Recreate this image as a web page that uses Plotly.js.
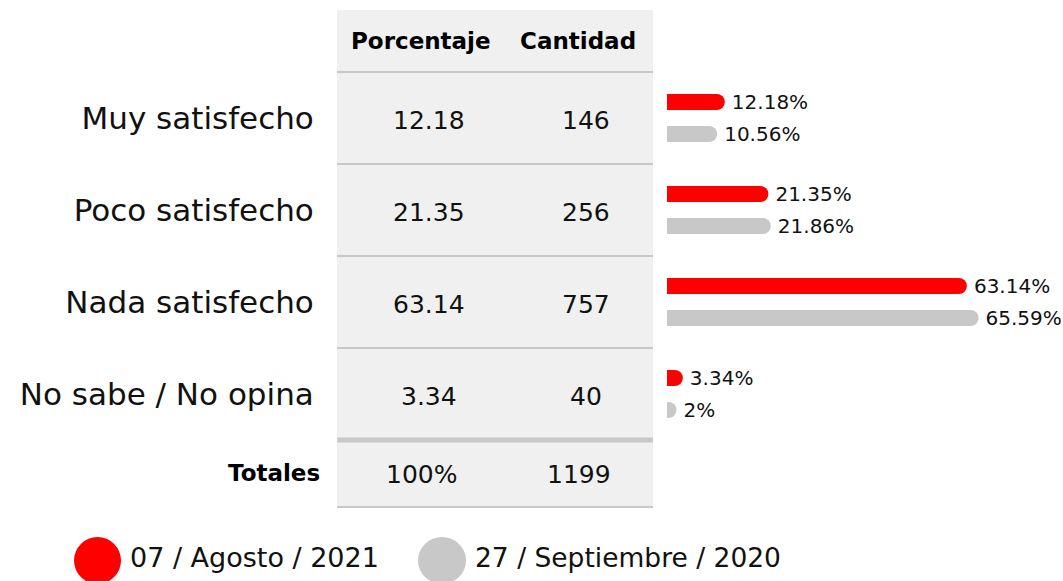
<!DOCTYPE html>
<html>
<head>
<meta charset="utf-8">
<script src="https://cdn.plot.ly/plotly-3.0.1.min.js"></script>
<style>html,body{margin:0;padding:0;background:#fff;}#chart{width:1063px;height:581px;}</style>
</head>
<body>
<div id="chart"></div>
<script>
// ---- data ----
const categories = ["Muy satisfecho", "Poco satisfecho", "Nada satisfecho", "No sabe / No opina"];
const pct2021 = [12.18, 21.35, 63.14, 3.34];
const pct2020 = [10.56, 21.86, 65.59, 2];
const cantidad = [146, 256, 757, 40];
const columns = ["Porcentaje", "Cantidad"];
const totalLabel = "Totales";
const totals = ["100%", "1199"];
const seriesNames = ["07 / Agosto / 2021", "27 / Septiembre / 2020"];
const colors = ["#ff0000", "#c8c8c8"];

const W = 1063, H = 581;
const px = v => v / W;
const py = v => 1 - v / H;
const FONT = "DejaVu Sans";

const barText = {family: FONT, size: 20, color: "#111"};
const traces = [
  {
    type: "bar", orientation: "h", y: categories, x: pct2021,
    xaxis: "x", yaxis: "y",
    width: 0.174, offset: -0.261,
    marker: {color: colors[0], cornerradius: 8},
    texttemplate: "\u2009%{x}%", textposition: "outside", constraintext: "none",
    outsidetextfont: barText,
    cliponaxis: false, showlegend: false, hoverinfo: "none"
  },
  {
    type: "bar", orientation: "h", y: categories, x: pct2020,
    xaxis: "x", yaxis: "y",
    width: 0.174, offset: 0.087,
    marker: {color: colors[1], cornerradius: 8},
    texttemplate: "\u2009%{x}%", textposition: "outside", constraintext: "none",
    outsidetextfont: barText,
    cliponaxis: false, showlegend: false, hoverinfo: "none"
  }
];

const lineColor = "#c8c8c8";
const shapes = [
  {type: "rect", layer: "below", xref: "paper", yref: "y", x0: px(337), x1: px(653), y0: -1.174, y1: 4.228,
   fillcolor: "#f0f0f0", line: {width: 0}},
];
[-0.5, 0.5, 1.5, 2.5].forEach(v => shapes.push({type: "line", layer: "below", xref: "paper", yref: "y",
   x0: px(337), x1: px(653), y0: v, y1: v, line: {color: lineColor, width: 2}}));
shapes.push({type: "line", layer: "below", xref: "paper", yref: "y", x0: px(337), x1: px(653), y0: 3.5, y1: 3.5,
   line: {color: lineColor, width: 5}});
shapes.push({type: "line", layer: "below", xref: "paper", yref: "y", x0: px(337), x1: px(653), y0: 4.228, y1: 4.228,
   line: {color: lineColor, width: 2}});
// legend circles
shapes.push({type: "circle", xref: "paper", yref: "paper", x0: px(74), x1: px(121), y0: py(584), y1: py(537),
   fillcolor: colors[0], line: {width: 0}});
shapes.push({type: "circle", xref: "paper", yref: "paper", x0: px(418), x1: px(466), y0: py(584), y1: py(537),
   fillcolor: colors[1], line: {width: 0}});

const cellFont = {family: FONT, size: 25, color: "#111"};
const annotations = [];
// table cells
categories.forEach((c, r) => {
  annotations.push({xref: "x2", yref: "y", x: 0, y: r, yshift: -2, text: pct2021[r].toFixed(2),
    showarrow: false, font: cellFont});
  annotations.push({xref: "x2", yref: "y", x: 1, y: r, yshift: -2, text: String(cantidad[r]),
    showarrow: false, font: cellFont});
});
columns.forEach((c, i) => annotations.push({xref: "x2", yref: "y", x: i, y: 0, yshift: 77, xshift: -8,
   text: "<b>" + c + "</b>", showarrow: false, font: {family: FONT, size: 23, color: "#000"}}));
annotations.push({xref: "paper", yref: "y", x: px(322), y: 3, yshift: -79, xanchor: "right",
   text: "<b>" + totalLabel + "</b>", showarrow: false, font: {family: FONT, size: 23, color: "#000"}});
totals.forEach((t, i) => annotations.push({xref: "x2", yref: "y", x: i, y: 3, yshift: -80, xshift: -7,
   text: t, showarrow: false, font: cellFont}));
annotations.push({xref: "paper", yref: "paper", x: px(128), y: py(557), xanchor: "left", yanchor: "middle",
   text: seriesNames[0], showarrow: false, font: {family: FONT, size: 27, color: "#111"}});
annotations.push({xref: "paper", yref: "paper", x: px(473), y: py(557), xanchor: "left", yanchor: "middle",
   text: seriesNames[1], showarrow: false, font: {family: FONT, size: 26.5, color: "#111"}});

const layout = {
  width: W, height: H,
  margin: {l: 0, r: 0, t: 0, b: 0, pad: 0},
  paper_bgcolor: "#fff", plot_bgcolor: "rgba(0,0,0,0)",
  barmode: "overlay",
  showlegend: false,
  font: {family: FONT, color: "#111"},
  xaxis: {domain: [px(667), 1], range: [0, 83.37], visible: false, fixedrange: true},
  xaxis2: {domain: [px(337), px(653)], type: "category", categoryarray: columns, categoryorder: "array",
           range: [-0.586, 1.427], visible: false, anchor: "y", fixedrange: true},
  yaxis: {type: "category", categoryarray: categories, categoryorder: "array",
          range: [5.0326, -1.2826], anchor: "free", position: px(324),
          showline: false, showgrid: false, zeroline: false,
          ticks: "outside", ticklen: 4, tickcolor: "rgba(0,0,0,0)",
          tickfont: {family: FONT, size: 31, color: "#111"}, fixedrange: true},
  shapes: shapes,
  annotations: annotations
};

Plotly.newPlot("chart", traces, layout, {displayModeBar: false, staticPlot: true});
</script>
</body>
</html>
